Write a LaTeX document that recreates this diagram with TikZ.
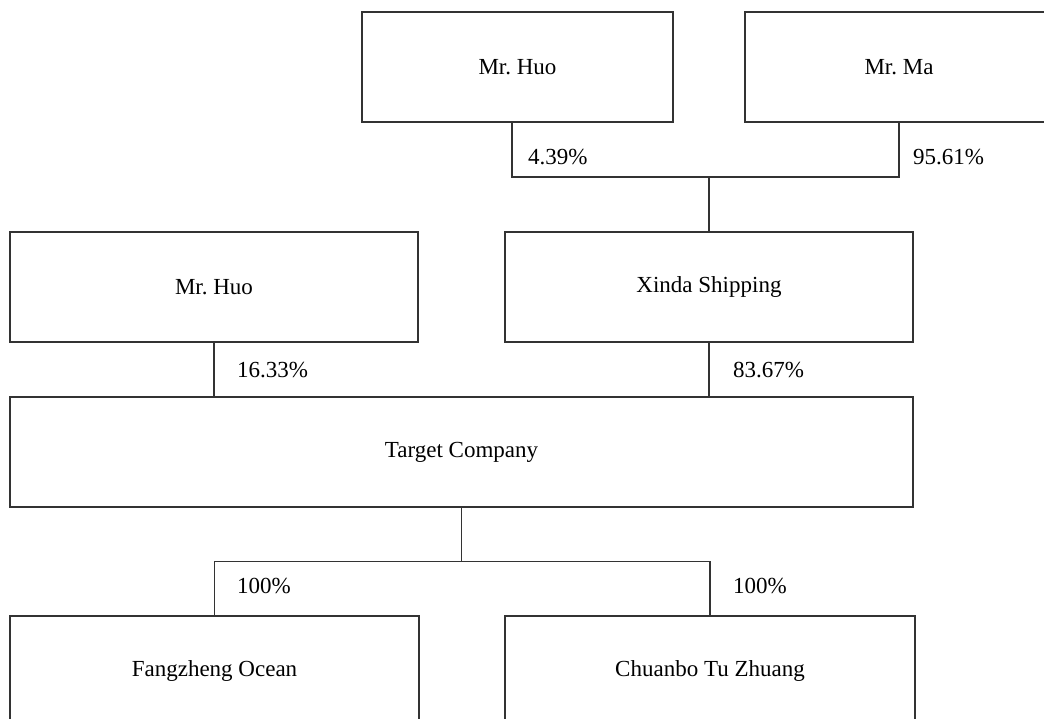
\documentclass[tikz,border=0pt]{standalone}
\usepackage{fontspec}
\setmainfont{Liberation Serif}
\frenchspacing
\begin{document}
\begin{tikzpicture}[x=1pt,y=-1pt,
    holder/.style={draw=black!80, line width=1.2pt, rectangle, inner sep=0pt,
      minimum width=408pt, minimum height=110pt},
    share/.style={anchor=base west, inner sep=0pt},
    link/.style={draw=black!80, line width=1.2pt}]
    \useasboundingbox (0,0) rectangle (1044,719);
    \clip (0,0) rectangle (1044,719);
    \fontsize{23}{27}\selectfont

    % Draw the owners
    \node[holder, minimum width=311pt] (huoA) at (517.5,67) {Mr. Huo};
    \node[holder, minimum width=308pt] (ma) at (899,67) {Mr. Ma};
    \node[holder] (huoB) at (214,287) {Mr. Huo};
    \node[holder] (xinda) at (709,287) {Xinda Shipping};

    % Draw the target and its subsidiaries
    \node[holder, minimum width=903pt] (target) at (461.5,452) {Target Company};
    \node[holder, minimum width=409pt] (fang) at (214.5,671) {Fangzheng Ocean};
    \node[holder, minimum width=410pt] (chuanbo) at (710,671) {Chuanbo Tu Zhuang};

    % Draw the links
    \coordinate (split) at (709,177);
    \draw[link] ([xshift=-5.5pt]huoA.south) |- (split) -| (ma.south);
    \draw[link] (split) -- (xinda.north);
    \draw[link] (huoB.south) -- (huoB.south |- target.north);
    \draw[link] (xinda.south) -- (xinda.south |- target.north);
    \coordinate (fork) at ([yshift=-54pt]target.south);
    \draw[link] (target.south) -- (fork);
    \draw[link] (fang.north) |- (fork) -| (chuanbo.north);

    % Add the shares
    \node[share] (sHuoA) at (528,165) {4.39\%};
    \node[share] (sMa) at (913,165) {95.61\%};
    \node[share] (sHuoB) at (237,377) {16.33\%};
    \node[share] (sXinda) at (733,377) {83.67\%};
    \node[share] (sFang) at (237,593) {100\%};
    \node[share] (sChuanbo) at (733,593) {100\%};
\end{tikzpicture}
\end{document}
